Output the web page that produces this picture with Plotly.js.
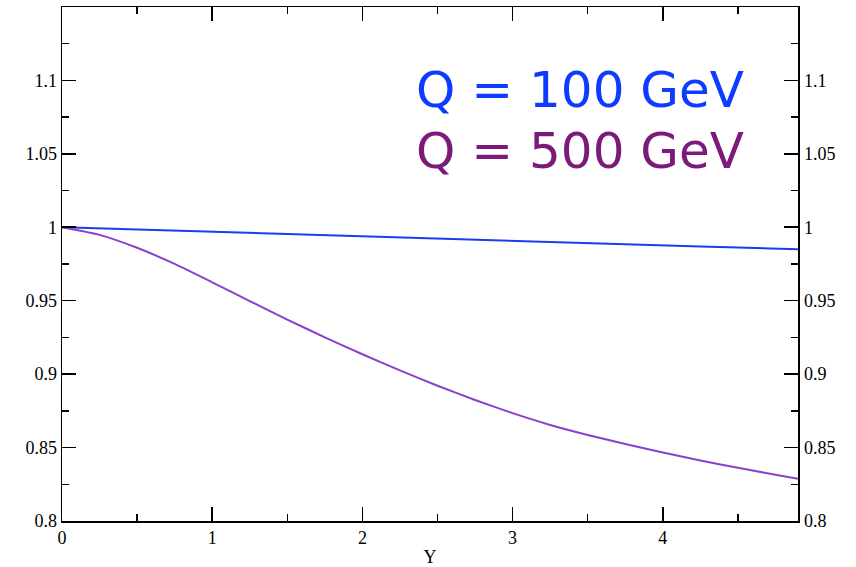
<!DOCTYPE html>
<html>
<head>
<meta charset="utf-8">
<script src="https://cdn.plot.ly/plotly-3.0.1.min.js"></script>
<style>html,body{margin:0;padding:0;background:#fff}#chart{width:856px;height:567px}</style>
</head>
<body>
<div id="chart"></div>
<script>
const yValues = [0, 0.25, 0.5, 0.75, 1.0, 1.25, 1.5, 1.75, 2.0, 2.25, 2.5, 2.75, 3.0, 3.25, 3.5, 3.75, 4.0, 4.25, 4.5, 4.75, 4.9];
const ratioQ100 = [1.0, 0.9992, 0.9984, 0.9977, 0.9969, 0.9961, 0.9953, 0.9946, 0.9938, 0.9930, 0.9922, 0.9915, 0.9907, 0.9899, 0.9891, 0.9884, 0.9876, 0.9868, 0.9861, 0.9854, 0.9850];
const ratioQ500 = [1.0, 0.9948, 0.986, 0.975, 0.9625, 0.9497, 0.9371, 0.9250, 0.9135, 0.9025, 0.8921, 0.8824, 0.8734, 0.8654, 0.8586, 0.8524, 0.8466, 0.8412, 0.8362, 0.8315, 0.8288];
const legendLabels = ["Q = 100 GeV", "Q = 500 GeV"];
const xTitle = "Y";

const serif = {family: "Liberation Serif, Times New Roman, serif", size: 18, color: "#000"};
const traces = [
  {x: yValues, y: ratioQ100, type: "scatter", mode: "lines", line: {color: "#1a3cf2", width: 2}, showlegend: false, hoverinfo: "skip"},
  {x: yValues, y: ratioQ500, type: "scatter", mode: "lines", line: {color: "#8a3fd0", width: 2, shape: "spline", smoothing: 0.5}, showlegend: false, hoverinfo: "skip"},
  {x: yValues, y: ratioQ500, yaxis: "y2", type: "scatter", mode: "lines", line: {width: 0}, opacity: 0, showlegend: false, hoverinfo: "skip"}
];
const axisCommon = {
  showgrid: false, zeroline: false, showline: true, linecolor: "#000", linewidth: 1.5,
  ticks: "inside", ticklen: 14, tickwidth: 1.5, tickcolor: "#000", tickfont: serif
};
const layout = {
  width: 856, height: 567,
  margin: {l: 62, r: 58, t: 7, b: 46},
  paper_bgcolor: "#fff", plot_bgcolor: "#fff",
  xaxis: Object.assign({}, axisCommon, {
    range: [0, 4.9], dtick: 1, tick0: 0, mirror: "ticks",
    minor: {dtick: 0.5, tick0: 0, ticks: "inside", ticklen: 7, tickwidth: 1.5, tickcolor: "#000"},
    title: {text: xTitle, font: serif, standoff: 6}
  }),
  yaxis: Object.assign({}, axisCommon, {
    range: [0.8, 1.1499], dtick: 0.05, tick0: 0.8, mirror: "ticks",
    minor: {dtick: 0.025, tick0: 0.8, ticks: "inside", ticklen: 7, tickwidth: 1.5, tickcolor: "#000"}
  }),
  yaxis2: {
    overlaying: "y", side: "right", range: [0.8, 1.1499], dtick: 0.05, tick0: 0.8,
    showgrid: false, zeroline: false, showline: false, ticks: "", ticklabelstandoff: 5, tickfont: serif
  },
  annotations: [
    {text: legendLabels[0], xref: "paper", yref: "paper", x: 0.929, y: 0.8377, xanchor: "right", yanchor: "middle", showarrow: false,
     font: {family: "DejaVu Sans, Verdana, sans-serif", size: 50, color: "#0d3bff"}},
    {text: legendLabels[1], xref: "paper", yref: "paper", x: 0.929, y: 0.720, xanchor: "right", yanchor: "middle", showarrow: false,
     font: {family: "DejaVu Sans, Verdana, sans-serif", size: 50, color: "#7b1a7b"}}
  ]
};
Plotly.newPlot("chart", traces, layout, {staticPlot: true, displayModeBar: false});
</script>
</body>
</html>
